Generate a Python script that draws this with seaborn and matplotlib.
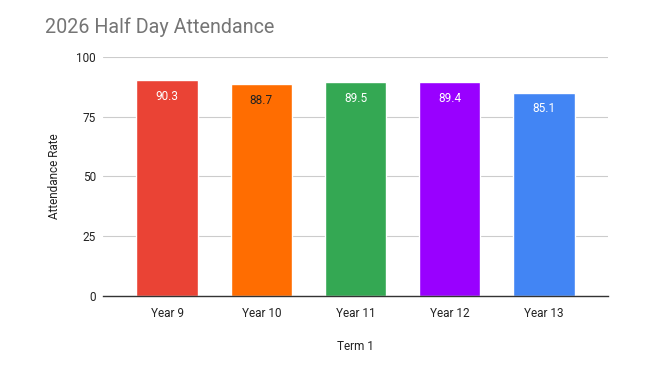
import matplotlib
matplotlib.use("Agg")
import matplotlib.pyplot as plt
import seaborn as sns
import pandas as pd

categories = ["Year 9", "Year 10", "Year 11", "Year 12", "Year 13"]
values = [90.3, 88.7, 89.5, 89.4, 85.1]
colors = ["#ea4335", "#ff6d01", "#34a853", "#9900ff", "#4285f4"]
label_colors = ["white", "#222222", "white", "white", "white"]
yticks = [0, 25, 50, 75, 100]

sns.set_theme(style="white")
plt.rcParams['font.family'] = ['Roboto', 'DejaVu Sans']

df = pd.DataFrame({"cat": categories, "val": values})
fig = plt.figure(figsize=(6.59, 3.67), dpi=100)
ax = fig.add_axes([0.1563, 0.1935, 0.7663, 0.6512])
sns.barplot(data=df, x="cat", y="val", hue="cat", palette=colors, width=0.65,
            legend=False, ax=ax, saturation=1)
ax.set_xlim(-0.68, 4.68)
ax.set_ylim(0, 100)
ax.set_yticks(yticks)
ax.set_yticklabels([str(t) for t in yticks], fontsize=8.5, color="#222222")
ax.tick_params(axis='x', labelsize=8.5, colors="#222222", length=0, pad=8)
ax.tick_params(axis='y', length=0, pad=5)
ax.grid(axis='y', color="#cccccc", linewidth=0.8)
ax.set_axisbelow(True)
for s in ["top", "right", "left"]:
    ax.spines[s].set_visible(False)
ax.spines["bottom"].set_color("#333333")
ax.spines["bottom"].set_linewidth(1)
for p, v, c in zip(ax.patches, values, label_colors):
    ax.annotate(f"{v}", (p.get_x() + p.get_width() / 2, v), xytext=(0, -7),
                textcoords="offset points", ha="center", va="top", fontsize=8.5, color=c)
ax.set_xlabel("Term 1", fontsize=8.5, color="#222222", labelpad=14)
ax.set_ylabel("Attendance Rate", fontsize=8.5, color="#222222", labelpad=11)
fig.text(45/659, 1 - 27/367, "2026 Half Day Attendance", fontsize=14.2, color="#757575",
         ha="left", va="center")
fig.savefig("out.png", dpi=100)
